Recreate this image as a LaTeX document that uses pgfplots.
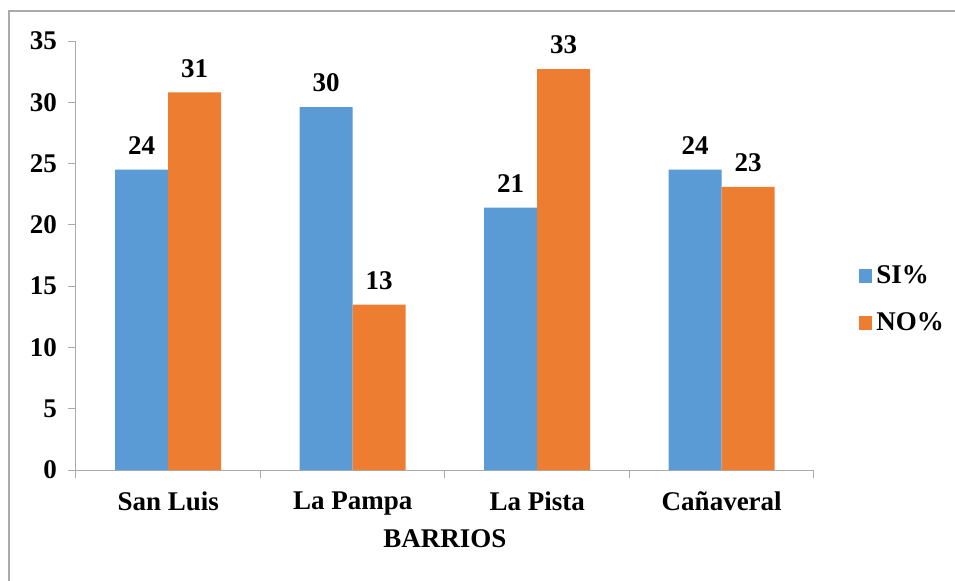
\documentclass[border=0pt]{standalone}
\usepackage{fontspec}
\setmainfont{Liberation Serif}
\usepackage{pgfplots}
\usepackage{pgfplotstable}
\pgfplotsset{compat=1.18}

\definecolor{siblue}{RGB}{91,155,213}
\definecolor{noorange}{RGB}{237,125,49}
\definecolor{axgray}{RGB}{170,170,170}
\newcommand{\lbl}{\fontsize{13.5}{16}\selectfont\bfseries}

% barrio, SI%, label, NO%, label
\pgfplotstableread{
x si silab no nolab
0 24.5 24 30.8 31
1 29.6 30 13.5 13
2 21.4 21 32.7 33
3 24.5 24 23.1 23
}\barrios

\begin{document}
\begin{tikzpicture}
\useasboundingbox (0,0) rectangle (477.5pt,290pt);
\fill[white] (0,0) rectangle (477.5pt,290pt);
% chart frame (cut off at right and bottom)
\draw[axgray, line width=0.6pt] (4.5pt,-2pt) -- (4.5pt,284.5pt) -- (480pt,284.5pt);

\begin{axis}[
    at={(38pt,55pt)}, anchor=south west,
    scale only axis,
    width=369pt, height=214.5pt,
    ybar=0pt, bar width=26.5pt,
    xmin=-0.5, xmax=3.5,
    ymin=0, ymax=35,
    ytick={0,5,...,35},
    xtick={-0.5,0.5,1.5,2.5,3.5},
    xticklabels={San Luis,La Pampa,La Pista,Cañaveral},
    x tick label as interval,
    axis lines*=left,
    axis line style={axgray, line width=0.5pt},
    tick style={axgray, line width=0.5pt},
    tick align=outside,
    major tick length=4pt,
    /pgf/number format/assume math mode=true,
    tick label style={font=\lbl, text=black},
    yticklabel style={xshift=-2pt},
    xticklabel style={yshift=-3.5pt},
    xlabel={BARRIOS},
    every axis x label/.style={at={(axis description cs:0.5,0)}, anchor=center, yshift=-34.5pt, font=\lbl},
    nodes near coords,
    point meta=explicit symbolic,
    every node near coord/.append style={font=\lbl, yshift=4pt},
    legend style={at={(1.06,0.397)}, anchor=west, draw=none, fill=none,
        font=\lbl, row sep=9pt, inner sep=0pt},
    legend cell align=left,
    legend image code/.code={\fill[#1] (-1.5pt,-3.4pt) rectangle (5.3pt,3.4pt);},
]

\addplot[fill=siblue, draw=none] table[x=x, y=si, meta=silab] {\barrios};
\addlegendentry{SI\%}

\addplot[fill=noorange, draw=none] table[x=x, y=no, meta=nolab] {\barrios};
\addlegendentry{NO\%}

\end{axis}
\end{tikzpicture}
\end{document}
